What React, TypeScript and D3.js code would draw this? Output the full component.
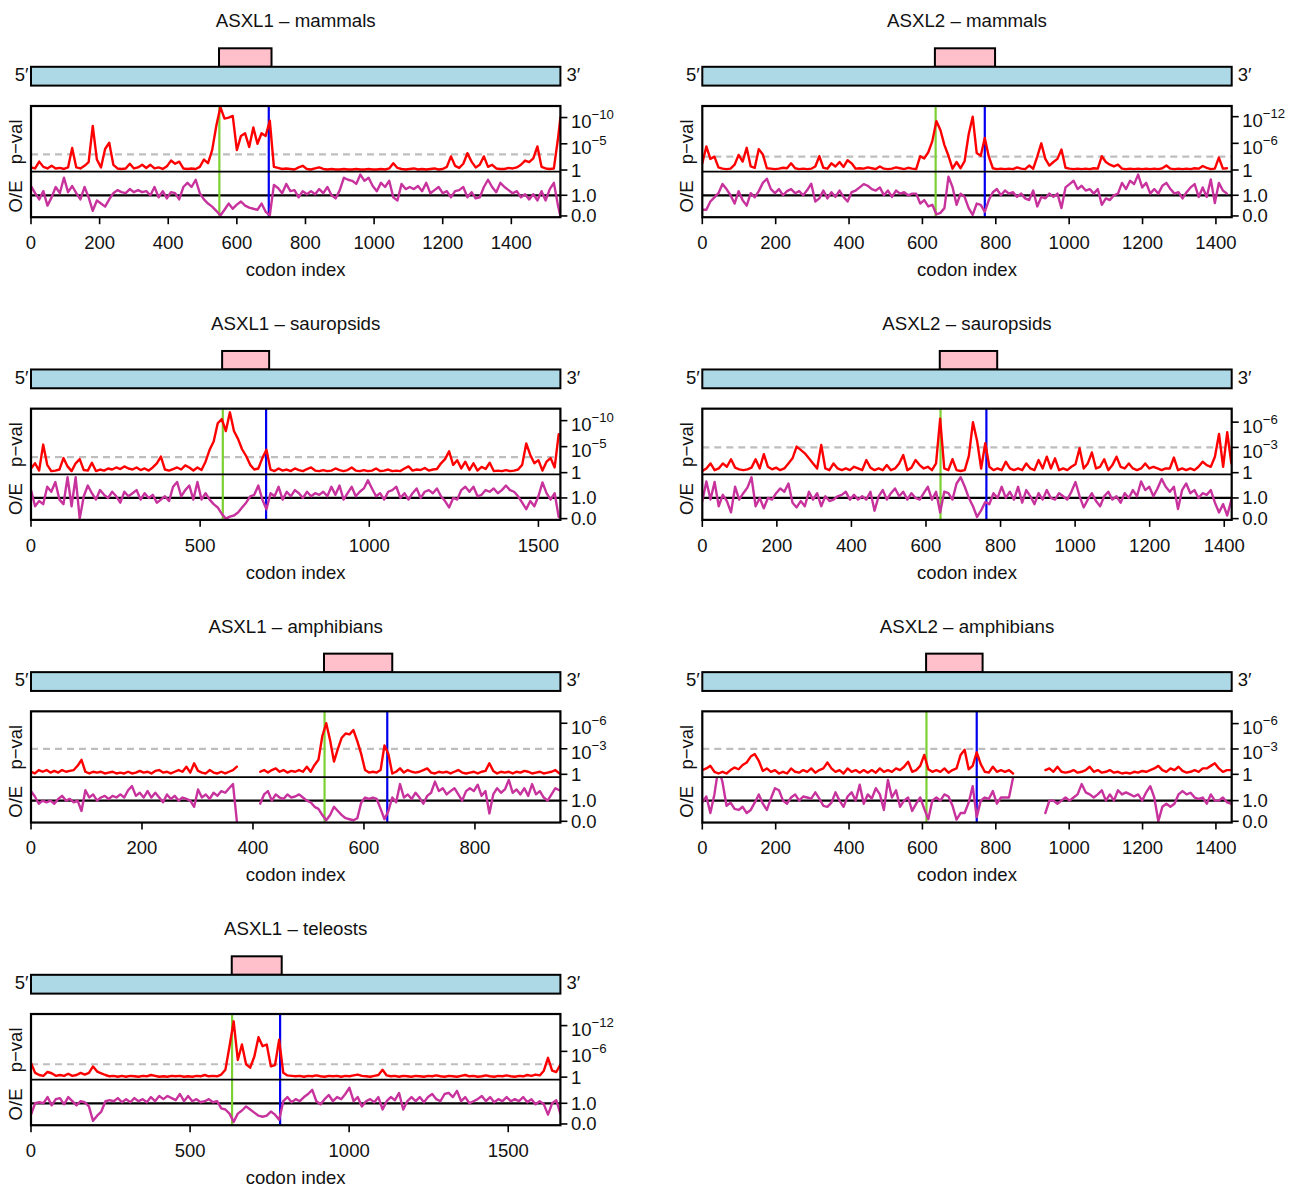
import React from "react";
import * as d3 from "d3";

const FONT = "'Liberation Sans', Arial, Helvetica, sans-serif";
const RED = "#FF0000";
const MAGENTA = "#C8329D";
const GREEN = "#7CD032";
const BLUE = "#0000F0";
const GREY = "#BEBEBE";
const PINK = "#FFC0CB";
const LIGHTBLUE = "#ADD8E6";
const FS = 18.5;

// ---------- data: -log10(p) and O/E, sampled every `step` codons ----------
const titles = [
  "ASXL1 – mammals",
  "ASXL2 – mammals",
  "ASXL1 – sauropsids",
  "ASXL2 – sauropsids",
  "ASXL1 – amphibians",
  "ASXL2 – amphibians",
  "ASXL1 – teleosts",
];
const lengths = [1543, 1443, 1565, 1420, 954, 1443, 1664];
const steps = [12, 11, 12, 11, 7, 11, 13];
const domainStart = [548, 634, 565, 637, 528, 610, 631];
const domainEnd = [701, 798, 704, 791, 651, 764, 788];
const greenMarks = [549, 636, 567, 639, 529, 611, 632];
const blueMarks = [693, 770, 695, 762, 642, 748, 783];
const pvalTop = [12.2, 14.4, 12.3, 7.6, 7.4, 7.45, 14.7];
const pvalBottom = [-0.32, -0.38, -0.33, -0.2, -0.32, -0.32, -0.6];
const pvalTicks = [[0, 5, 10], [0, 6, 12], [0, 5, 10], [0, 3, 6], [0, 3, 6], [0, 3, 6], [0, 6, 12]];
const xTicks = [
  [0, 200, 400, 600, 800, 1000, 1200, 1400],
  [0, 200, 400, 600, 800, 1000, 1200, 1400],
  [0, 500, 1000, 1500],
  [0, 200, 400, 600, 800, 1000, 1200, 1400],
  [0, 200, 400, 600, 800],
  [0, 200, 400, 600, 800, 1000, 1200, 1400],
  [0, 500, 1000, 1500],
];
const threshold = 3;
const oeTicks = [0, 1];

const mamASXL1_P = [
  0.5, 0.3, 1.6, 0.6, 0.3, 0.8, 0.3, 0.4, 0.2, 0.5,
  4.2, 0.5, 0.3, 0.8, 1.5, 8.4, 2.0, 0.5, 4.0, 5.2,
  1.0, 0.3, 0.2, 0.3, 1.2, 0.3, 0.5, 1.0, 0.4, 1.0,
  0.3, 0.5, 0.2, 0.7, 1.8, 1.2, 1.6, 0.3, 0.2, 0.3,
  0.2, 0.6, 2.0, 1.3, 3.8, 8.4, 12.0, 9.8, 10.0, 10.3,
  3.8, 6.5, 7.0, 4.4, 8.1, 5.0, 7.0, 6.5, 9.4, 0.6,
  0.4, 0.2, 0.3, 0.2, 0.1, 0.5, 0.8, 0.2, 0.1, 0.3,
  0.5, 0.2, 0.1, 0.2, 0.1, 0.1, 0.2, 0.1, 0.1, 0.2,
  0.1, 0.1, 0.2, 0.1, 0.1, 0.2, 0.1, 0.3, 1.3, 0.4,
  0.2, 0.1, 0.2, 0.3, 0.1, 0.2, 0.1, 0.2, 0.3, 0.1,
  0.2, 0.6, 2.6, 0.8, 0.4, 1.2, 3.2, 1.6, 0.5, 1.0,
  2.6, 0.6, 1.0, 0.3, 0.2, 0.2, 0.4, 0.3, 0.5, 1.0,
  1.8, 1.5, 2.2, 4.5, 0.6, 0.3, 0.2, 0.3, 6.0, 10.0,
];
const mamASXL1_OE = [
  1.45, 1.1, 0.8, 1.2, 0.5, 0.9, 1.4, 1.1, 1.85, 1.15,
  1.45, 1.1, 0.8, 1.4, 0.9, 0.25, 0.75, 0.6, 0.45, 0.8,
  1.1, 1.25, 1.15, 1.1, 1.3, 1.15, 1.25, 1.15, 1.2, 1.0,
  1.4, 0.9, 1.2, 0.85, 1.15, 1.1, 0.8, 1.4, 1.6, 1.4,
  1.75, 1.1, 0.8, 0.6, 0.45, 0.25, 0.02, 0.3, 0.6, 0.35,
  0.55, 0.7, 0.5, 0.4, 0.35, 0.3, 0.6, 0.2, 0.03, 1.5,
  1.35, 1.1, 1.55, 1.2, 1.25, 0.9, 1.2, 1.05, 1.2, 1.05,
  1.3, 1.1, 1.4, 1.0, 0.85, 1.25, 1.85, 1.75, 1.7, 1.55,
  2.0, 1.7, 1.85, 1.45, 1.2, 1.6, 1.4, 1.7, 0.9, 0.75,
  1.55, 1.3, 1.4, 1.3, 1.45, 1.2, 1.6, 1.1, 1.25, 1.4,
  1.1, 1.2, 0.9, 1.2, 1.25, 1.4, 0.9, 1.15, 0.85, 0.9,
  1.4, 1.75, 1.4, 1.15, 1.6, 1.4, 1.25, 1.1, 1.2, 0.9,
  1.05, 0.8, 1.05, 0.75, 1.2, 0.75, 1.3, 1.6, 0.5, 0.0,
];

const mamASXL2_P = [
  1.5, 5.3, 2.5, 3.0, 0.6, 0.3, 0.2, 0.3, 1.2, 3.4,
  1.9, 5.0, 0.8, 0.5, 4.7, 3.5, 0.4, 0.3, 0.2, 0.3,
  0.5, 0.4, 1.5, 0.4, 0.2, 0.3, 0.2, 0.3, 0.8, 3.1,
  0.5, 0.3, 1.5, 0.8, 1.8, 0.7, 2.2, 1.5, 0.3, 0.4,
  0.3, 0.6, 0.4, 0.2, 0.8, 0.3, 0.2, 0.3, 0.6, 0.4,
  0.2, 0.5, 0.3, 0.2, 3.1, 2.6, 4.0, 6.5, 11.0, 9.0,
  5.6, 3.2, 0.3, 1.8, 0.4, 2.0, 8.0, 12.0, 3.8, 3.2,
  7.2, 3.0, 0.4, 0.2, 0.3, 0.2, 0.3, 0.2, 0.6, 0.3,
  0.2, 1.0, 0.3, 3.0, 6.0, 2.5, 1.0, 1.8, 2.5, 4.6,
  0.5, 0.3, 0.2, 0.3, 0.2, 0.3, 0.2, 0.4, 0.3, 3.1,
  1.8, 1.2, 0.8, 1.2, 0.3, 0.2, 0.3, 0.2, 0.3, 0.2,
  0.3, 0.2, 0.3, 0.2, 0.4, 1.0, 0.3, 0.2, 0.3, 0.2,
  0.3, 0.2, 0.4, 0.3, 0.9, 0.5, 0.2, 0.3, 2.8, 0.3, 0.4,
];
const mamASXL2_OE = [
  0.3, 0.3, 0.7, 0.9, 1.1, 1.55, 1.3, 1.0, 0.6, 1.2,
  0.76, 0.5, 1.1, 0.9, 1.2, 1.6, 1.8, 1.3, 1.1, 1.3,
  1.0, 1.2, 1.3, 1.1, 1.2, 1.0, 1.25, 1.56, 0.7, 0.85,
  1.23, 0.85, 1.15, 0.92, 1.23, 0.92, 0.7, 1.15, 1.23, 1.38,
  1.54, 1.46, 1.3, 1.23, 1.38, 1.0, 1.23, 0.92, 1.23, 1.08,
  1.15, 1.0, 1.08, 1.08, 0.6, 0.77, 0.46, 0.54, 0.08, 0.15,
  0.38, 1.9, 1.4, 0.54, 1.08, 0.92, 0.38, 0.05, 0.6, 0.54,
  0.2, 0.77, 1.15, 1.3, 1.0, 1.23, 1.08, 1.15, 0.92, 1.08,
  0.85, 0.77, 1.23, 0.46, 0.92, 0.85, 1.08, 0.92, 1.08, 0.38,
  1.38, 1.54, 1.7, 1.3, 1.46, 1.23, 1.3, 1.08, 1.3, 0.54,
  0.85, 0.77, 1.0, 1.08, 1.6, 1.3, 1.7, 1.54, 2.0, 1.38,
  1.6, 1.08, 1.3, 1.08, 1.46, 1.6, 1.3, 1.08, 1.15, 0.85,
  1.15, 1.38, 1.54, 0.92, 1.38, 0.92, 1.77, 0.62, 1.6, 1.23, 1.08,
];

const sauASXL1_P = [
  0.8, 1.8, 0.4, 5.4, 1.5, 0.3, 0.4, 0.6, 2.8, 1.2,
  0.3, 1.8, 2.6, 0.5, 0.4, 1.9, 0.3, 0.6, 0.4, 0.8,
  0.6, 1.0, 0.7, 1.2, 0.8, 0.6, 1.0, 0.5, 0.8, 0.4,
  1.0, 1.8, 3.1, 0.6, 0.4, 0.7, 1.0, 0.6, 1.4, 1.0,
  0.4, 1.0, 0.5, 2.1, 4.4, 6.0, 9.5, 10.3, 8.0, 11.6,
  8.0, 6.5, 4.5, 3.2, 1.5, 0.6, 0.8, 2.8, 4.4, 0.6,
  0.3, 0.8, 0.4, 0.6, 0.3, 0.8, 0.5, 0.3, 0.7, 1.0,
  0.4, 0.3, 0.5, 0.3, 0.4, 0.8, 0.5, 0.3, 0.5, 1.0,
  0.4, 0.3, 0.5, 0.3, 0.4, 0.8, 0.3, 0.4, 0.6, 0.3,
  0.4, 0.3, 0.8, 1.2, 0.4, 0.6, 0.5, 0.9, 0.4, 0.6,
  0.7, 1.8, 2.6, 4.1, 1.5, 2.4, 0.8, 2.1, 0.5, 1.8,
  0.4, 1.1, 0.7, 1.9, 0.3, 0.4, 0.3, 0.5, 0.3, 0.4,
  0.6, 1.5, 5.6, 3.4, 1.8, 2.4, 0.4, 2.1, 2.8, 1.0, 7.4,
];
const sauASXL1_OE = [
  1.38, 0.6, 0.85, 0.7, 1.54, 1.3, 1.77, 0.92, 0.7, 2.0,
  0.6, 2.0, 0.0, 1.08, 1.6, 1.23, 0.92, 1.38, 1.15, 1.0,
  1.3, 1.08, 0.77, 1.3, 1.08, 1.23, 1.38, 0.92, 1.23, 1.0,
  1.15, 0.77, 0.92, 1.08, 0.85, 1.54, 1.77, 1.08, 1.38, 1.6,
  0.92, 1.77, 0.92, 1.23, 0.92, 0.7, 0.54, 0.23, 0.0, 0.1,
  0.15, 0.3, 0.54, 0.77, 1.08, 1.15, 1.6, 0.92, 0.45, 1.23,
  1.08, 1.54, 0.92, 1.3, 1.08, 1.38, 1.23, 1.0, 1.3, 1.08,
  1.23, 1.15, 1.3, 1.08, 1.54, 1.15, 1.6, 0.92, 1.23, 1.54,
  1.08, 1.3, 1.46, 1.85, 1.46, 1.08, 1.23, 0.92, 1.3, 1.38,
  1.54, 1.0, 1.23, 0.92, 1.23, 1.46, 1.0, 1.3, 1.38, 1.23,
  1.46, 1.08, 0.85, 0.54, 1.0, 0.92, 1.38, 1.54, 1.3, 1.54,
  1.08, 1.15, 1.38, 1.3, 1.46, 1.23, 1.38, 1.6, 1.38, 1.3,
  1.08, 0.77, 0.46, 0.85, 0.6, 1.08, 1.75, 1.23, 0.92, 1.23, 0.08,
];

const sauASXL2_P = [
  0.2, 0.5, 1.1, 0.3, 0.5, 1.1, 0.7, 1.6, 0.6, 0.4,
  0.3, 0.4, 0.6, 1.6, 0.5, 2.2, 0.7, 0.4, 0.6, 0.3,
  0.5, 1.1, 1.7, 3.1, 2.7, 2.3, 1.7, 1.1, 0.5, 3.3,
  0.5, 0.3, 1.1, 0.5, 0.3, 0.5, 0.3, 0.7, 0.5, 0.3,
  1.5, 0.6, 0.3, 0.5, 0.3, 0.9, 0.3, 0.5, 1.1, 2.1,
  0.3, 0.6, 1.5, 0.9, 0.5, 0.7, 0.3, 1.1, 6.4, 0.5,
  0.3, 1.6, 0.3, 0.2, 0.3, 2.0, 6.0, 3.8, 0.5, 3.5,
  0.7, 0.3, 0.5, 0.3, 1.3, 0.5, 0.3, 0.5, 0.3, 1.1,
  0.5, 0.3, 1.5, 0.5, 1.9, 0.5, 1.7, 0.3, 0.5, 0.3,
  0.7, 1.0, 2.9, 0.5, 1.1, 2.4, 0.5, 0.7, 1.6, 0.3,
  0.9, 1.9, 0.7, 0.5, 1.1, 0.5, 0.3, 0.5, 1.1, 0.5,
  0.7, 0.5, 0.3, 0.5, 0.5, 1.8, 0.3, 0.5, 0.3, 0.5,
  0.3, 0.7, 1.3, 0.9, 0.7, 1.9, 4.6, 0.7, 4.8, 1.1,
];
const sauASXL2_OE = [
  0.85, 1.8, 0.92, 1.77, 0.6, 1.15, 0.85, 0.3, 1.54, 0.92,
  1.23, 1.5, 2.0, 0.6, 1.0, 0.5, 1.0, 0.92, 1.23, 1.46,
  1.3, 1.7, 0.77, 0.54, 0.85, 0.6, 1.3, 0.92, 1.23, 0.6,
  1.08, 0.85, 0.92, 1.08, 1.15, 1.3, 0.92, 1.15, 0.92, 1.08,
  0.92, 1.3, 0.38, 1.08, 1.38, 0.92, 1.23, 1.46, 1.08, 1.3,
  0.92, 1.23, 1.0, 0.92, 1.23, 1.54, 0.92, 1.3, 0.3, 1.3,
  1.23, 0.92, 1.7, 2.0, 1.54, 1.0, 0.6, 0.08, 0.4, 0.8,
  0.7, 1.23, 1.0, 1.54, 1.0, 1.3, 0.92, 1.54, 0.77, 1.38,
  1.08, 0.7, 1.23, 0.92, 1.38, 1.0, 0.92, 1.23, 1.08, 0.92,
  1.3, 1.77, 1.08, 0.54, 0.92, 1.23, 0.85, 0.6, 1.08, 1.3,
  0.92, 1.08, 0.77, 1.23, 1.0, 1.38, 1.08, 1.8, 1.38, 1.54,
  1.08, 1.46, 1.92, 1.54, 1.3, 1.54, 0.46, 1.38, 1.7, 1.23,
  1.38, 1.0, 1.23, 1.15, 1.38, 0.77, 0.3, 0.7, 0.15, 0.9,
];

const ampASXL1_P = [
  0.3, 0.1, 0.5, 0.3, 0.5, 0.2, 0.4, 0.2, 0.5, 0.3,
  0.4, 0.5, 1.0, 1.7, 0.3, 0.1, 0.3, 0.2, 0.3, 0.1,
  0.2, 0.3, 0.1, 0.2, 0.1, 0.3, 0.1, 0.2, 0.4, 0.2,
  0.3, 0.1, 0.4, 0.5, 0.2, 0.3, 0.1, 0.3, 0.5, 0.3,
  0.9, 0.2, 1.3, 0.4, 0.2, 0.1, 0.5, 0.2, 0.1, 0.3,
  0.1, 0.3, 0.5, 0.9, null, null, null, null, null, 0.3,
  0.5, 0.2, 0.5, 0.7, 0.3, 0.5, 0.2, 0.4, 0.3, 0.5,
  0.3, 0.9, 0.3, 1.1, 1.7, 4.5, 6.0, 4.0, 1.5, 3.0,
  4.3, 4.8, 4.7, 5.2, 3.9, 2.4, 0.5, 0.2, 0.3, 0.2,
  0.5, 3.4, 2.4, 0.1, 0.3, 0.7, 0.2, 0.5, 0.3, 0.2,
  0.3, 0.5, 0.7, 0.2, 0.1, 0.3, 0.2, 0.3, 0.1, 0.3,
  0.5, 0.2, 0.1, 0.2, 0.3, 0.1, 0.3, 0.4, 1.3, 0.4,
  0.1, 0.3, 0.2, 0.3, 0.1, 0.3, 0.2, 0.4, 0.3, 0.1,
  0.2, 0.3, 0.1, 0.2, 0.3, 0.5, 0.1,
];
const ampASXL1_OE = [
  1.46, 1.2, 0.85, 1.0, 0.92, 1.0, 0.85, 1.08, 1.23, 1.0,
  1.08, 0.92, 1.0, 0.5, 1.5, 1.15, 1.3, 1.0, 1.15, 1.23,
  1.08, 1.23, 1.15, 1.3, 1.15, 1.5, 1.7, 1.23, 1.38, 1.15,
  1.46, 1.15, 1.38, 1.15, 0.92, 1.3, 1.08, 1.23, 1.0, 1.15,
  1.08, 1.0, 0.7, 1.54, 1.15, 1.3, 1.08, 1.38, 1.23, 1.46,
  1.38, 1.6, 1.8, 0.0, null, null, null, null, null, 0.85,
  1.3, 1.46, 1.0, 1.3, 1.15, 1.08, 1.3, 1.15, 1.2, 1.3,
  1.15, 1.0, 0.92, 0.7, 0.6, 0.3, 0.05, 0.3, 0.7, 0.5,
  0.3, 0.15, 0.1, 0.05, 0.15, 0.9, 1.15, 1.08, 1.15, 1.08,
  0.6, 0.1, 0.5, 1.15, 0.92, 1.8, 1.15, 1.3, 1.08, 1.38,
  1.15, 0.85, 1.23, 1.38, 1.92, 1.46, 1.6, 1.3, 1.46, 1.6,
  1.3, 1.0, 1.46, 1.6, 1.46, 1.77, 1.23, 1.46, 0.38, 1.3,
  1.6, 1.38, 1.54, 2.0, 1.38, 1.54, 1.3, 1.6, 1.23, 1.8,
  1.3, 1.46, 1.15, 1.0, 1.3, 1.6, 1.5,
];

const ampASXL2_P = [
  0.5, 0.7, 1.0, 0.3, 0.1, 0.3, 0.1, 0.5, 0.8, 0.6,
  1.1, 1.4, 2.1, 2.4, 1.6, 0.4, 0.7, 0.3, 0.5, 0.1,
  0.3, 0.1, 0.7, 0.3, 0.2, 0.5, 0.3, 0.7, 0.2, 0.5,
  0.7, 1.4, 0.7, 0.3, 0.5, 0.1, 0.7, 0.3, 0.5, 0.2,
  0.5, 0.2, 0.5, 0.2, 0.7, 0.3, 0.5, 0.3, 0.7, 0.5,
  0.9, 1.5, 0.3, 0.5, 1.0, 2.3, 0.6, 0.3, 0.5, 0.3,
  0.7, 0.2, 0.5, 0.7, 2.3, 2.9, 0.6, 1.0, 2.6, 1.2,
  0.3, 0.2, 0.9, 0.3, 0.5, 0.3, 0.5, 0.1, null, null,
  null, null, null, null, null, 0.5, 0.7, 0.3, 0.9, 0.3,
  0.2, 0.3, 0.5, 0.2, 0.3, 0.5, 0.9, 0.3, 0.5, 0.2,
  0.3, 0.5, 0.2, 0.3, 0.1, 0.2, 0.1, 0.3, 0.2, 0.4,
  0.3, 0.5, 0.7, 1.0, 0.5, 0.3, 0.7, 0.5, 0.9, 0.4,
  0.2, 0.3, 0.5, 0.3, 0.7, 0.7, 1.0, 1.3, 0.7, 0.3, 0.5, 0.5,
];
const ampASXL2_OE = [
  0.92, 1.2, 0.4, 1.3, 2.6, 1.9, 0.75, 0.9, 0.6, 0.55,
  0.7, 0.4, 0.55, 0.9, 1.3, 0.85, 0.55, 1.1, 1.6, 1.5,
  1.0, 0.85, 1.15, 1.3, 1.0, 1.2, 1.15, 1.1, 1.4, 1.1,
  0.75, 0.7, 0.9, 1.4, 1.0, 0.7, 1.2, 1.4, 1.0, 1.77,
  0.85, 1.3, 1.1, 1.6, 1.3, 0.55, 2.0, 1.15, 1.5, 0.7,
  1.0, 1.15, 0.5, 0.85, 1.15, 0.6, 0.1, 1.0, 1.15, 1.0,
  1.3, 1.2, 0.75, 0.08, 0.4, 0.4, 0.9, 1.7, 0.2, 1.0,
  1.15, 1.08, 1.46, 0.85, 1.15, 1.15, 1.15, 2.1, null, null,
  null, null, null, null, null, 0.4, 1.0, 1.0, 0.85, 1.0,
  1.15, 1.0, 1.15, 1.3, 1.8, 1.4, 1.3, 1.15, 1.3, 1.5,
  1.0, 1.3, 1.0, 1.5, 1.3, 1.4, 1.3, 1.2, 1.3, 1.0,
  1.4, 1.7, 1.15, 0.0, 0.7, 0.85, 0.7, 0.85, 1.3, 1.46,
  1.3, 1.38, 1.15, 1.08, 1.15, 0.85, 1.3, 1.0, 1.0, 1.15, 0.92, 0.85,
];

const telASXL1_P = [
  3.3, 1.0, 0.5, 0.3, 1.2, 0.9, 0.3, 0.5, 0.3, 0.8,
  0.3, 0.5, 1.0, 0.6, 1.0, 2.5, 1.3, 0.9, 0.5, 0.2,
  0.3, 0.1, 0.3, 0.1, 0.3, 0.2, 0.1, 0.3, 0.2, 0.5,
  0.3, 0.1, 0.2, 0.1, 0.3, 0.2, 0.3, 0.1, 0.2, 0.1,
  0.3, 0.2, 0.5, 0.2, 0.3, 0.2, 0.6, 1.7, 7.2, 13.0,
  4.0, 7.6, 3.0, 2.2, 4.8, 9.3, 7.2, 7.6, 2.5, 2.8,
  8.7, 1.0, 0.4, 0.3, 0.2, 0.3, 0.1, 0.3, 0.2, 0.4,
  0.2, 0.1, 0.3, 0.2, 0.3, 0.1, 0.3, 0.2, 0.4, 0.6,
  0.3, 0.2, 0.1, 0.3, 0.5, 1.7, 0.4, 0.2, 0.3, 0.1,
  0.3, 0.2, 0.1, 0.3, 0.2, 0.1, 0.3, 0.2, 0.4, 0.2,
  0.1, 0.3, 0.2, 0.1, 0.3, 0.5, 0.2, 0.3, 0.1, 0.2,
  0.4, 0.2, 0.1, 0.3, 0.2, 0.4, 0.2, 0.1, 0.3, 0.2,
  0.5, 0.3, 0.6, 0.4, 1.5, 4.5, 1.5, 1.2, 2.9,
];
const telASXL1_OE = [
  0.45, 1.0, 1.05, 1.0, 1.3, 0.9, 1.2, 1.25, 0.95, 1.3,
  1.1, 0.9, 1.1, 1.05, 0.85, 0.15, 0.4, 0.6, 1.1, 1.15,
  1.1, 1.25, 1.05, 1.2, 1.05, 1.25, 1.1, 1.2, 1.05, 1.3,
  1.1, 1.35, 1.2, 1.35, 1.25, 1.15, 1.45, 1.1, 1.35, 1.1,
  1.2, 1.05, 1.1, 1.2, 1.05, 1.1, 0.75, 0.7, 0.5, 0.1,
  0.5, 0.65, 0.85, 0.7, 0.55, 0.4, 0.35, 0.4, 0.6, 0.45,
  0.2, 1.1, 1.3, 1.05, 1.2, 1.1, 1.3, 1.45, 1.65, 1.1,
  0.95, 1.2, 1.4, 1.1, 1.3, 1.2, 1.45, 1.75, 1.1, 1.3,
  0.85, 1.1, 1.2, 1.05, 1.3, 0.7, 1.1, 1.3, 1.15, 1.5,
  0.7, 1.1, 1.3, 1.1, 1.3, 1.05, 1.3, 1.45, 1.2, 1.1,
  1.45, 1.5, 1.3, 1.6, 1.1, 1.3, 1.0, 1.1, 1.2, 1.35,
  1.1, 1.3, 1.05, 1.2, 1.1, 1.3, 1.1, 1.2, 1.1, 1.3,
  1.05, 1.2, 0.95, 1.1, 0.95, 0.45, 1.0, 1.15, 0.5,
];

const pvalSeries = [mamASXL1_P, mamASXL2_P, sauASXL1_P, sauASXL2_P, ampASXL1_P, ampASXL2_P, telASXL1_P];
const oeSeries = [mamASXL1_OE, mamASXL2_OE, sauASXL1_OE, sauASXL2_OE, ampASXL1_OE, ampASXL2_OE, telASXL1_OE];

const OE_DOMAIN: [number, number] = [-0.06, 2.14];

// ---------- layout ----------
const COL_X = [31, 702.3];
const PLOT_W = 529.4;
const ROW_DY = 302.67;

type Pt = { c: number; v: number | null };

function PanelView({ i }: { i: number }) {
  const col = i % 2;
  const row = Math.floor(i / 2);
  const x0 = COL_X[col];
  const x1 = x0 + PLOT_W;
  const dy = row * ROW_DY;
  const Y = (v: number) => v + dy;
  const L = lengths[i];
  const step = steps[i];
  const x = d3.scaleLinear().domain([0, L]).range([x0, x1]);

  const pTop = Y(106);
  const pBot = Y(171.7);
  const oBot = Y(217.2);
  const yP = d3.scaleLinear().domain([pvalBottom[i], pvalTop[i]]).range([pBot, pTop]);
  const yO = d3.scaleLinear().domain(OE_DOMAIN).range([oBot, pBot]);

  const toPts = (arr: (number | null)[]): Pt[] =>
    arr.map((v, k) => ({ c: Math.min(k * step, L), v }));
  const mk = (ys: d3.ScaleLinear<number, number>) =>
    d3
      .line<Pt>()
      .defined((d) => d.v !== null)
      .x((d) => x(d.c))
      .y((d) => ys(d.v as number));

  const pPath = mk(yP)(toPts(pvalSeries[i])) || "";
  const oPath = mk(yO)(toPts(oeSeries[i])) || "";

  const barTop = Y(66.8);
  const barBot = Y(85.6);
  const pinkTop = Y(48.3);
  const cx = (x0 + x1) / 2;
  const clipP = `clipP${i}`;
  const clipO = `clipO${i}`;
  const tickFmt = d3.format("d");
  const labX = x1 + 10.5;

  return (
    <g>
      <defs>
        <clipPath id={clipP}>
          <rect x={x0} y={pTop} width={PLOT_W} height={pBot - pTop} />
        </clipPath>
        <clipPath id={clipO}>
          <rect x={x0} y={pBot} width={PLOT_W} height={oBot - pBot} />
        </clipPath>
      </defs>

      {/* title */}
      <text x={cx} y={Y(27.3)} textAnchor="middle" fontSize={18.7} fontFamily={FONT} fill="#111">
        {titles[i]}
      </text>

      {/* gene diagram */}
      <rect
        x={x(domainStart[i])}
        y={pinkTop}
        width={x(domainEnd[i]) - x(domainStart[i])}
        height={barTop - pinkTop}
        fill={PINK}
        stroke="#000"
        strokeWidth={2}
      />
      <rect x={x(0)} y={barTop} width={x(L) - x(0)} height={barBot - barTop} fill={LIGHTBLUE} stroke="#000" strokeWidth={2} />
      <text x={x0 - 2.5} y={Y(81)} textAnchor="end" fontSize={FS} fontFamily={FONT} fill="#111">
        5′
      </text>
      <text x={x1 + 6} y={Y(81)} textAnchor="start" fontSize={FS} fontFamily={FONT} fill="#111">
        3′
      </text>

      {/* reference lines */}
      <line
        x1={x0}
        x2={x1}
        y1={yP(threshold)}
        y2={yP(threshold)}
        stroke={GREY}
        strokeWidth={2.2}
        strokeDasharray="7,5"
      />
      <line x1={x0} x2={x1} y1={yO(1)} y2={yO(1)} stroke="#000" strokeWidth={2.2} />

      {/* domain boundary marks */}
      <line x1={x(greenMarks[i])} x2={x(greenMarks[i])} y1={pTop} y2={oBot} stroke={GREEN} strokeWidth={2.2} />
      <line x1={x(blueMarks[i])} x2={x(blueMarks[i])} y1={pTop} y2={oBot} stroke={BLUE} strokeWidth={2.2} />

      {/* series */}
      <path d={pPath} fill="none" stroke={RED} strokeWidth={2.4} strokeLinejoin="round" strokeLinecap="round" clipPath={`url(#${clipP})`} />
      <path d={oPath} fill="none" stroke={MAGENTA} strokeWidth={2.4} strokeLinejoin="round" strokeLinecap="round" clipPath={`url(#${clipO})`} />

      {/* frames */}
      <line x1={x0} x2={x1} y1={pBot} y2={pBot} stroke="#000" strokeWidth={1.7} />
      <rect x={x0} y={pTop} width={PLOT_W} height={oBot - pTop} fill="none" stroke="#000" strokeWidth={2.2} />

      {/* right axis: p-value */}
      {pvalTicks[i].map((t) => {
        const ty = yP(t);
        return (
          <g key={"p" + t}>
            <line x1={x1} x2={x1 + 7} y1={ty} y2={ty} stroke="#000" strokeWidth={1.6} />
            {t === 0 ? (
              <text x={labX} y={ty + 6.5} fontSize={FS} fontFamily={FONT} fill="#111">
                1
              </text>
            ) : (
              <text x={labX} y={ty + 10.5} fontSize={FS} fontFamily={FONT} fill="#111">
                10
                <tspan dy={-8.8} fontSize={13.2}>
                  {"−" + t}
                </tspan>
              </text>
            )}
          </g>
        );
      })}
      {/* right axis: O/E */}
      {oeTicks.map((t) => {
        const ty = yO(t);
        return (
          <g key={"o" + t}>
            <line x1={x1} x2={x1 + 7} y1={ty} y2={ty} stroke="#000" strokeWidth={1.6} />
            <text x={labX} y={ty + 6.5} fontSize={FS} fontFamily={FONT} fill="#111">
              {d3.format(".1f")(t)}
            </text>
          </g>
        );
      })}

      {/* left labels */}
      <text
        transform={`translate(${x0 - 9.5},${(pTop + pBot) / 2 + 3}) rotate(-90)`}
        textAnchor="middle"
        fontSize={FS}
        fontFamily={FONT}
        fill="#111"
      >
        p−val
      </text>
      <text
        transform={`translate(${x0 - 9.5},${(pBot + oBot) / 2 + 2}) rotate(-90)`}
        textAnchor="middle"
        fontSize={FS}
        fontFamily={FONT}
        fill="#111"
      >
        O/E
      </text>

      {/* bottom axis */}
      {xTicks[i].map((t) => (
        <g key={"x" + t}>
          <line x1={x(t)} x2={x(t)} y1={oBot} y2={oBot + 7} stroke="#000" strokeWidth={1.6} />
          <text x={x(t)} y={Y(249)} textAnchor="middle" fontSize={FS} fontFamily={FONT} fill="#111">
            {tickFmt(t)}
          </text>
        </g>
      ))}
      <text x={cx} y={Y(276)} textAnchor="middle" fontSize={FS} fontFamily={FONT} fill="#111">
        codon index
      </text>
    </g>
  );
}

export default function App() {
  React.useEffect(() => {
    document.body.style.margin = "0";
  }, []);
  return (
    <svg
      width={1295}
      height={1187}
      viewBox="0 0 1295 1187"
      style={{ position: "absolute", left: 0, top: 0, background: "#fff" }}
    >
      <rect x={0} y={0} width={1295} height={1187} fill="#fff" />
      {titles.map((_, i) => (
        <PanelView key={i} i={i} />
      ))}
    </svg>
  );
}
